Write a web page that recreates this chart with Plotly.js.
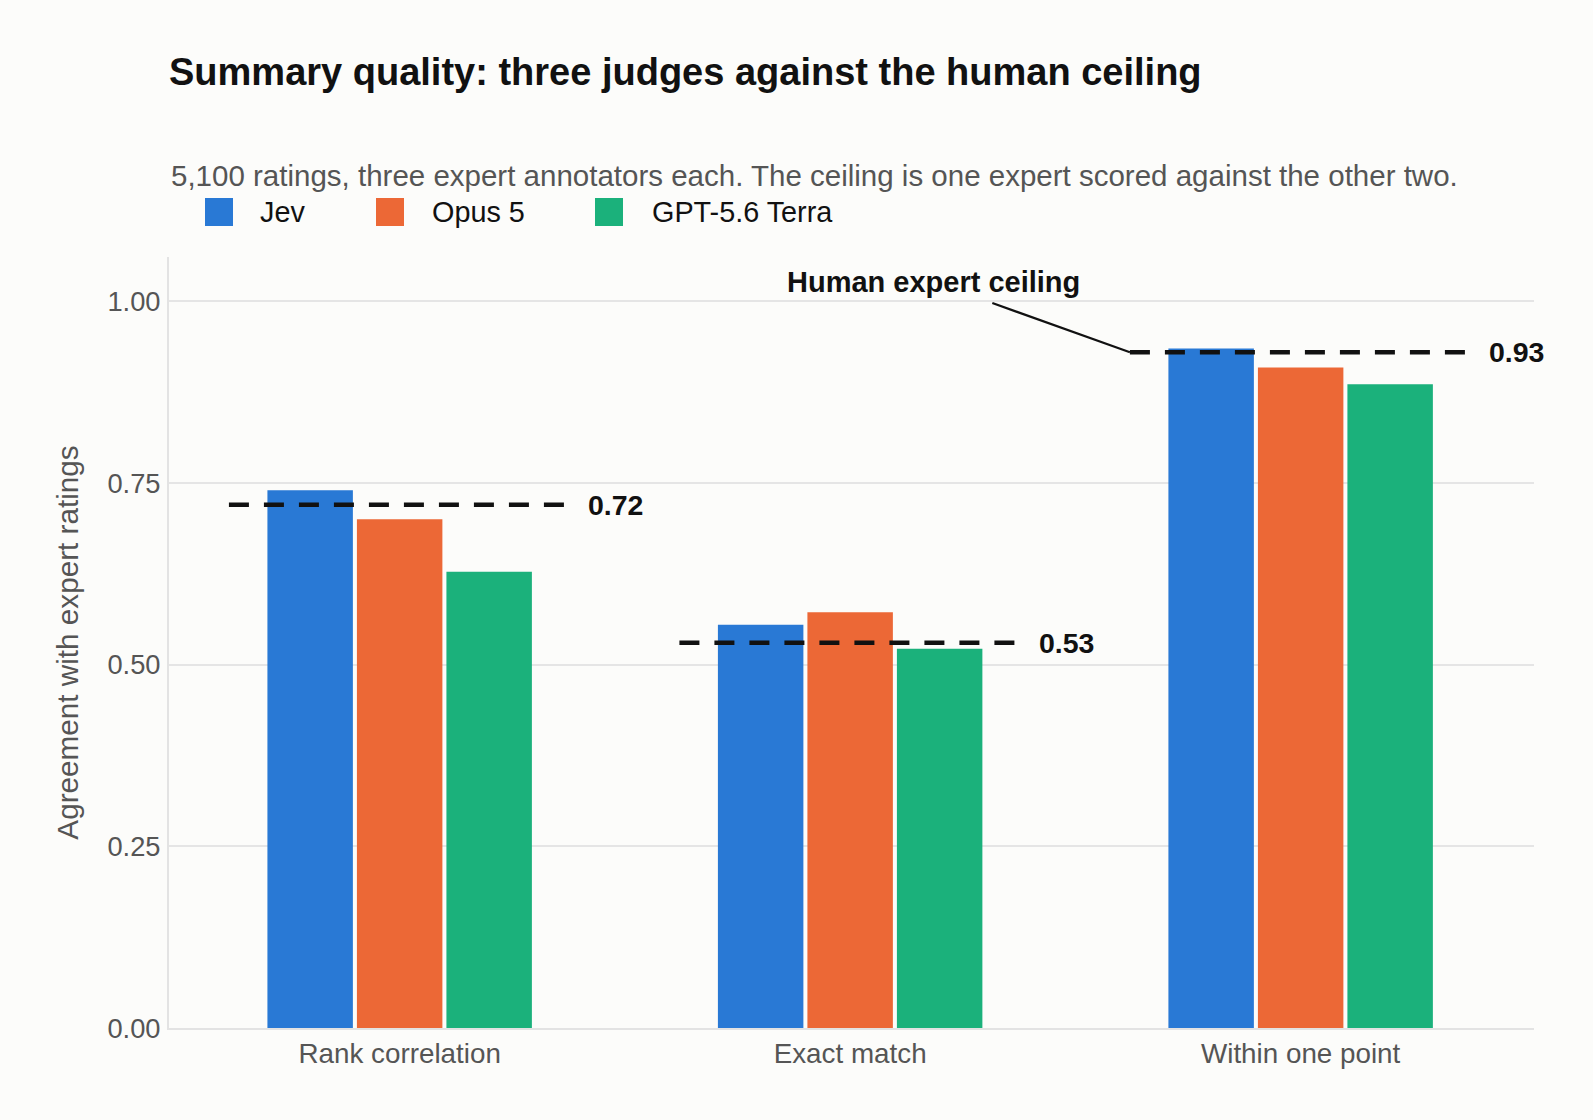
<!DOCTYPE html>
<html>
<head>
<meta charset="utf-8">
<script src="https://cdn.plot.ly/plotly-3.0.1.min.js"></script>
<style>
  html, body { margin: 0; padding: 0; background: #fcfcfa; }
  #chart { width: 1593px; height: 1120px; }
</style>
</head>
<body>
<div id="chart"></div>
<script>
// data
var categories = ['Rank correlation', 'Exact match', 'Within one point'];
var judges = ['Jev', 'Opus 5', 'GPT-5.6 Terra'];
var jevValues = [0.74, 0.555, 0.935];
var opusValues = [0.70, 0.572, 0.909];
var terraValues = [0.628, 0.522, 0.886];
var ceilingValues = [0.72, 0.53, 0.93];
var ceilingLabels = ['0.72', '0.53', '0.93'];
var yTickVals = [0, 0.25, 0.5, 0.75, 1];
var yTickText = ['0.00', '0.25', '0.50', '0.75', '1.00'];

var colors = ['#2979d5', '#ec6836', '#1bb17b'];
var font = 'Liberation Sans, Arial, Helvetica, sans-serif';

// page geometry
var W = 1593, H = 1120;
var M = {l: 169, r: 59, t: 257, b: 92};
var plotW = W - M.l - M.r, plotH = H - M.t - M.b;
function px(x) { return (x - M.l) / plotW; }
function py(y) { return (H - M.b - y) / plotH; }

var series = [jevValues, opusValues, terraValues];
var traces = [];
for (let i = 0; i < judges.length; ++i) {
  traces.push({
    type: 'bar', name: judges[i], x: categories, y: series[i],
    marker: {color: colors[i], line: {width: 0}},
    hoverinfo: 'skip', showlegend: false
  });
}

var half = 0.379;
var shapes = [];
var annotations = [];
for (let i = 0; i < categories.length; ++i) {
  shapes.push({type: 'line', xref: 'x', yref: 'y', x0: i - half, x1: i + half,
    y0: ceilingValues[i], y1: ceilingValues[i],
    line: {color: '#111111', width: 4.5, dash: '20px,15px'}});
  annotations.push({xref: 'x', yref: 'y', x: i + half, y: ceilingValues[i],
    xanchor: 'left', yanchor: 'middle', xshift: 16, showarrow: false,
    text: '<b>' + ceilingLabels[i] + '</b>', font: {size: 28.5, color: '#111111', family: font}});
}

// leader label for the ceiling
annotations.push({xref: 'x', yref: 'y', x: 2 - half, y: ceilingValues[2],
  ax: -196, ay: -70, axref: 'pixel', ayref: 'pixel',
  showarrow: true, arrowhead: 0, arrowwidth: 2.2, arrowcolor: '#111111', startstandoff: 10,
  text: '<b>Human expert ceiling</b>', font: {size: 29, color: '#111111', family: font}});

// subtitle
annotations.push({xref: 'paper', yref: 'paper', x: 0, y: py(176), xanchor: 'left', yanchor: 'middle',
  showarrow: false, text: '5,100 ratings, three expert annotators each. The ceiling is one expert scored against the other two.',
  font: {size: 29.5, color: '#555555', family: font}});

// legend drawn by hand so swatches match the reference size
var swatchX = [205, 376, 595];
var labelX = [258, 430, 650];
for (let i = 0; i < judges.length; ++i) {
  shapes.push({type: 'rect', xref: 'paper', yref: 'paper',
    x0: px(swatchX[i]), x1: px(swatchX[i] + 28), y0: py(226), y1: py(198),
    fillcolor: colors[i], line: {width: 0}});
  annotations.push({xref: 'paper', yref: 'paper', x: px(labelX[i]), y: py(212),
    xanchor: 'left', yanchor: 'middle', showarrow: false, text: judges[i],
    font: {size: 28.8, color: '#111111', family: font}});
}

var layout = {
  width: W, height: H, autosize: false,
  margin: M,
  paper_bgcolor: '#fcfcfa', plot_bgcolor: '#fcfcfa',
  font: {family: font, color: '#555555', size: 27},
  title: {text: '<b>Summary quality: three judges against the human ceiling</b>',
    x: M.l / W, xref: 'container', xanchor: 'left', y: 1 - 72 / H, yref: 'container', yanchor: 'middle',
    font: {size: 38, color: '#111111', family: font}},
  barmode: 'group', bargap: 0.404, bargroupgap: 0.045,
  xaxis: {type: 'category', range: [-0.512, 2.518], showgrid: false, showline: true,
    linecolor: '#e3e3e3', linewidth: 2, ticks: '', tickfont: {size: 27.8, color: '#555555'}, fixedrange: true},
  yaxis: {range: [0, 1.061], tickvals: yTickVals, ticktext: yTickText, showgrid: true,
    gridcolor: '#e5e5e5', gridwidth: 2, zeroline: false, showline: true, linecolor: '#e3e3e3', linewidth: 2,
    ticks: '', ticklabelstandoff: 1, tickfont: {size: 27.3, color: '#555555'},
    title: {text: 'Agreement with expert ratings', standoff: 20, font: {size: 29.7, color: '#555555'}}, fixedrange: true},
  showlegend: false,
  shapes: shapes,
  annotations: annotations
};

Plotly.newPlot('chart', traces, layout, {displayModeBar: false, staticPlot: true});
</script>
</body>
</html>
